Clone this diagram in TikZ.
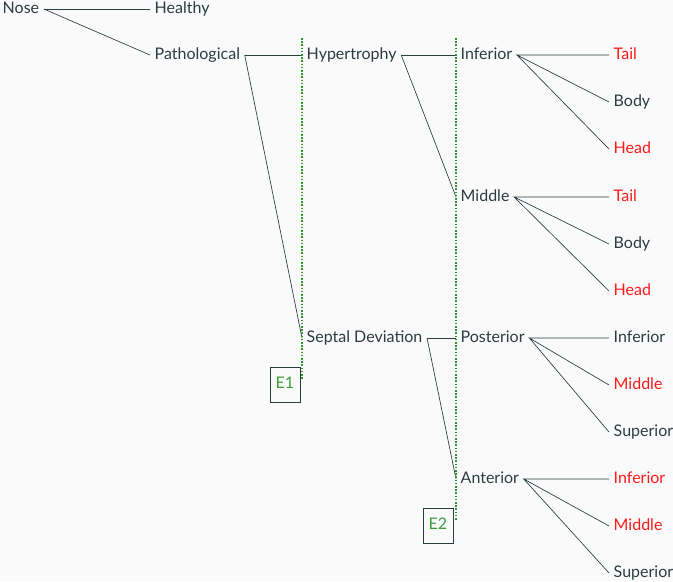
\documentclass[tikz,border=0pt]{standalone}
\usepackage{fontspec}
\setmainfont{Lato}
\usepackage{tikz}
\definecolor{darkTeal}{HTML}{2B3D41}
\definecolor{alertRed}{HTML}{FF1A1A}
\definecolor{markGreen}{HTML}{2E962E}
\definecolor{tagGreen}{HTML}{3CA03C}
\definecolor{bgGray}{HTML}{FAFAFA}

\begin{document}
\begin{tikzpicture}[x=0.75pt,y=-0.75pt,
  every node/.style={darkTeal,font=\fontsize{12}{14}\selectfont,anchor=west,
    text height=1.5ex,text depth=.25ex},
  branch/.style={darkTeal,line width=0.5pt},
  greenDots/.style={markGreen,line width=1.4pt,dash pattern=on 1.2pt off 1.2pt},
  tag/.style={draw=darkTeal,text=tagGreen,anchor=center,line width=0.5pt,
    minimum width=22.5pt,minimum height=26.25pt,inner sep=0pt}]
\fill[bgGray] (0,0) rectangle (673,581);
\useasboundingbox (0,0) rectangle (673,581);
% 1) Nose
\node (nose) at (-2,9) {Nose};
\node (healthy) at (150,9) {Healthy};
\node (patho) at (150,55) {Pathological};
\draw[branch] (nose.east) -- (healthy.west);
\draw[branch] (nose.east) -- (patho.west);
% 2) Pathological
\node (hyper) at (302,55) {Hypertrophy};
\node (septal) at (302,338) {Septal Deviation};
\draw[branch] (patho.east) -- (hyper.west);
\draw[branch] (patho.east) -- (septal.west);
\node[tag] (e1) at (285,384.5) {E1};
\draw[greenDots] ([yshift=12.75pt]hyper.west) -- ([yshift=3.4pt]hyper.west |- e1.center);
% 3) Hypertrophy
\node (hinf) at (456,55) {Inferior};
\node (hmid) at (456,197) {Middle};
\draw[branch] (hyper.east) -- (hinf.west);
\draw[branch] (hyper.east) -- (hmid.west);
% 4) Septal deviation
\node (spos) at (456,338) {Posterior};
\node (sant) at (456,479) {Anterior};
\draw[branch] (septal.east) -- (spos.west);
\draw[branch] (septal.east) -- (sant.west);
\node[tag] (e2) at (438,525.5) {E2};
\draw[greenDots] ([yshift=12.75pt]hinf.west) -- ([yshift=3.4pt]hinf.west |- e2.center);
% 5) leaves
\node[alertRed] (itail) at (609,55) {Tail};
\node (ibody) at (609,102) {Body};
\node[alertRed] (ihead) at (609,149) {Head};
\node[alertRed] (mtail) at (609,197) {Tail};
\node (mbody) at (609,244) {Body};
\node[alertRed] (mhead) at (609,291) {Head};
\node (pinf) at (609,338) {Inferior};
\node[alertRed] (pmid) at (609,385) {Middle};
\node (psup) at (609,432) {Superior};
\node[alertRed] (ainf) at (609,479) {Inferior};
\node[alertRed] (amid) at (609,526) {Middle};
\node (asup) at (609,573) {Superior};
\foreach \p/\a/\b/\c in {hinf/itail/ibody/ihead, hmid/mtail/mbody/mhead,
    spos/pinf/pmid/psup, sant/ainf/amid/asup}
  \draw[branch] (\a.west) -- (\p.east) -- (\b.west) (\p.east) -- (\c.west);
\end{tikzpicture}
\end{document}
